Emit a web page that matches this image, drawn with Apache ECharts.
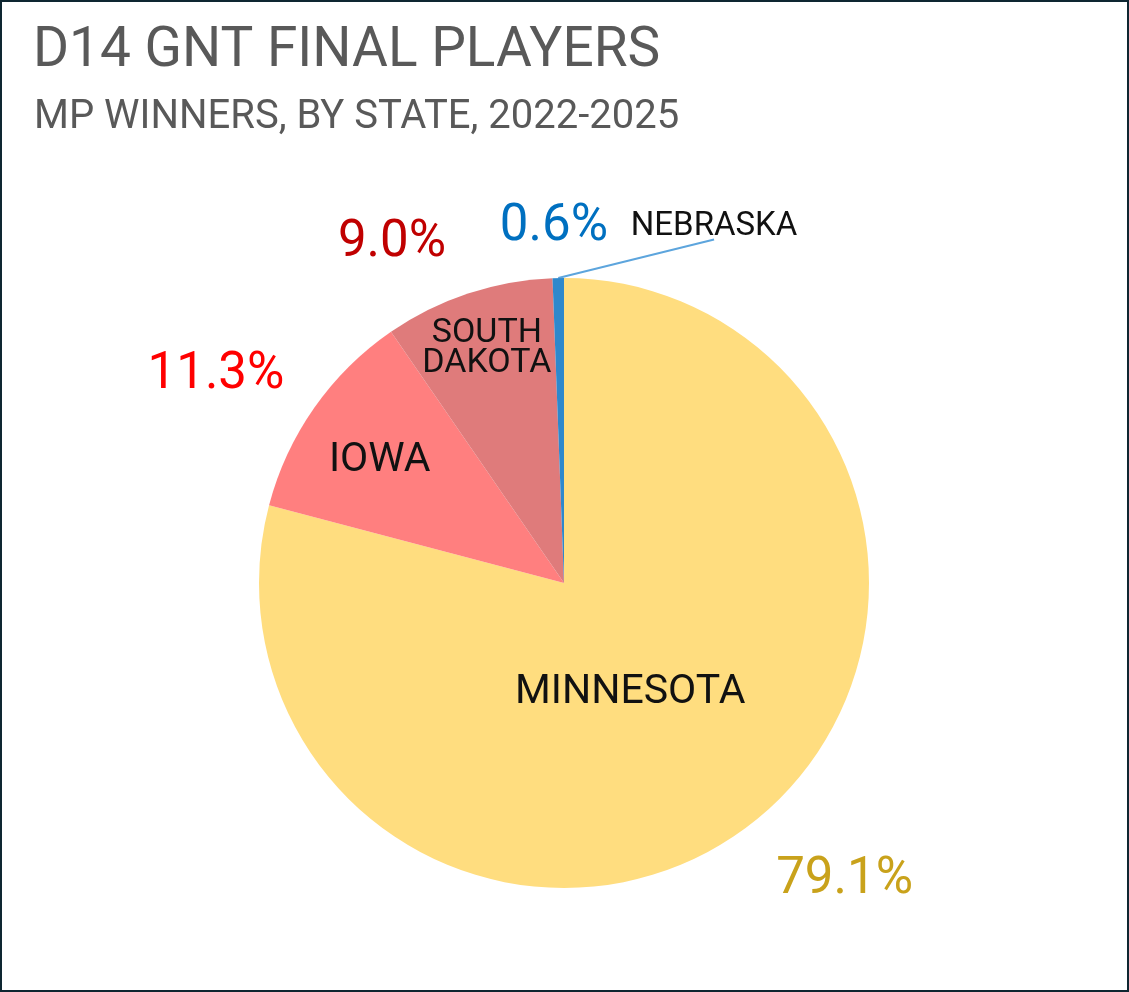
<!DOCTYPE html>
<html>
<head>
<meta charset="utf-8">
<script src="https://cdn.jsdelivr.net/npm/echarts@6/dist/echarts.min.js"></script>
<style>
html,body{margin:0;padding:0;background:#fff;}
#wrap{position:relative;width:1129px;height:992px;}
#main{position:absolute;left:0;top:0;width:1129px;height:992px;}
#frame{position:absolute;left:0;top:0;width:1129px;height:992px;box-sizing:border-box;border:2px solid #0E2631;pointer-events:none;}
</style>
</head>
<body>
<div id="wrap"><div id="main"></div><div id="frame"></div></div>
<script>
// Data
const states = ['MINNESOTA', 'IOWA', 'SOUTH\nDAKOTA', 'NEBRASKA'];
const shares = [79.1, 11.3, 9.0, 0.6];
const sliceColors = ['#FFDD7F', '#FF7F7F', '#DF7B7B', '#2E88CC'];
const pctColors = ['#C9A21B', '#FF0000', '#C00000', '#0070C0'];
const titleText = 'D14 GNT FINAL PLAYERS';
const subtitleText = 'MP WINNERS, BY STATE, 2022-2025';

// Layout (not data)
const CX = 564, CY = 583, R = 305;
// label centers as multiples of the radius, relative to the pie center
const nameSpots = [[0.217, 0.361], [-0.604, -0.400], [-0.253, -0.770], [0.492, -1.167]];
const pctSpots = [[0.920, 0.975], [-1.141, -0.680], [-0.564, -1.113], [-0.033, -1.165]];
const nameSizes = [41, 41, 34, 33];

const chart = echarts.init(document.getElementById('main'), null, {renderer: 'canvas'});

const nameData = states.map((s, i) => ({
  name: s, value: shares[i],
  itemStyle: {color: sliceColors[i]},
  label: {fontSize: nameSizes[i], lineHeight: nameSizes[i] - 4},
  labelLine: {show: i === 3, lineStyle: {color: '#5DA5DD', width: 2}}
}));
const pctData = states.map((s, i) => ({
  name: s, value: shares[i],
  label: {color: pctColors[i]}
}));

chart.setOption({
  animation: false,
  backgroundColor: '#ffffff',
  title: [
    {
      text: titleText,
      left: 28,
      top: 20,
      textStyle: {fontFamily: 'Roboto', fontSize: 55, fontWeight: 'normal', color: '#595959'}
    },
    {
      text: subtitleText,
      left: 29,
      top: 93,
      textStyle: {fontFamily: 'Roboto', fontSize: 40, fontWeight: 'normal', color: '#595959'}
    }
  ],
  series: [
    {
      type: 'pie',
      center: [CX, CY],
      radius: R,
      startAngle: 90,
      clockwise: true,
      avoidLabelOverlap: false,
      itemStyle: {borderWidth: 0},
      label: {
        show: true,
        position: 'outside',
        formatter: '{b}',
        fontFamily: 'Roboto',
        color: '#111111'
      },
      labelLine: {show: true, length: 10, length2: 0},
      labelLayout: function (p) {
        const s = nameSpots[p.dataIndex];
        const x = CX + s[0] * R, y = CY + s[1] * R;
        const out = {x: x, y: y, align: 'center', verticalAlign: 'middle'};
        if (p.dataIndex === 3) {
          const rc = p.rect;
          const h = p.labelRect.height;
          out.labelLinePoints = [[rc.x + rc.width / 2, rc.y], [x, y + h / 2 - 4]];
        }
        return out;
      },
      data: nameData,
      silent: true
    },
    {
      type: 'pie',
      center: [CX, CY],
      radius: R,
      startAngle: 90,
      clockwise: true,
      avoidLabelOverlap: false,
      itemStyle: {color: 'rgba(0,0,0,0)', borderWidth: 0},
      label: {
        show: true,
        position: 'outside',
        formatter: function (p) { return p.value.toFixed(1) + '%'; },
        fontFamily: 'Roboto',
        fontSize: 51
      },
      labelLine: {show: false},
      labelLayout: function (p) {
        const s = pctSpots[p.dataIndex];
        return {x: CX + s[0] * R, y: CY + s[1] * R, align: 'center', verticalAlign: 'middle'};
      },
      data: pctData,
      silent: true
    }
  ]
});
</script>
</body>
</html>
